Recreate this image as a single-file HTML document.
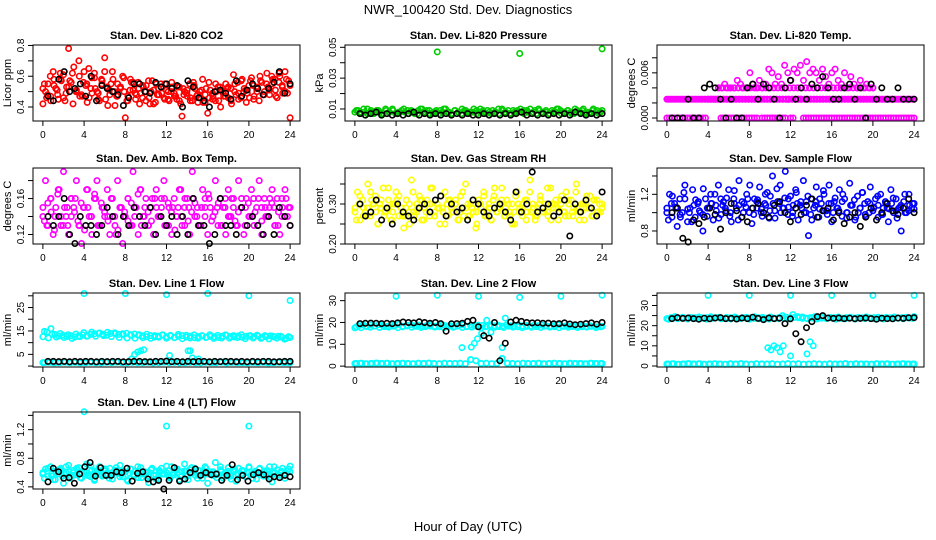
<!DOCTYPE html>
<html><head><meta charset="utf-8"><style>
html,body{margin:0;padding:0;background:#fff;}
svg{display:block;font-family:"Liberation Sans",Arial,sans-serif;}
</style></head><body>
<svg id="chart" width="936" height="540" viewBox="0 0 936 540" xmlns="http://www.w3.org/2000/svg">
<rect width="936" height="540" fill="#fff"/>
<text x="468" y="14" text-anchor="middle" font-size="13">NWR_100420  Std. Dev. Diagnostics</text>
<text x="468" y="531" text-anchor="middle" font-size="13">Hour of Day (UTC)</text>
<g id="plots"></g>
</svg>
<script>
// ---------- DATA ----------
const xTicks = [0,4,8,12,16,20,24];
const xTickLabels = ["0","4","8","12","16","20","24"];

const co2Red = [0.42,0.50,0.55,0.47,0.63,0.52,0.45,0.58,0.61,0.49,0.78,0.56,0.66,0.51,0.70,0.48,0.63,0.55,0.46,0.59,0.62,0.50,0.44,0.57,0.72,0.53,0.48,0.63,0.41,0.55,0.52,0.60,0.33,0.47,0.58,0.51,0.45,0.56,0.49,0.53,0.44,0.57,0.50,0.42,0.55,0.48,0.53,0.46,0.51,0.44,0.56,0.49,0.45,0.53,0.34,0.50,0.47,0.55,0.44,0.52,0.48,0.46,0.58,0.43,0.36,0.51,0.47,0.44,0.53,0.40,0.49,0.55,0.46,0.52,0.61,0.48,0.45,0.57,0.50,0.43,0.54,0.59,0.47,0.52,0.44,0.56,0.50,0.62,0.48,0.55,0.58,0.46,0.60,0.53,0.63,0.49,0.33];
const co2Red2 = [0.52,0.46,0.60,0.54,0.48,0.57,0.44,0.53,0.62,0.50,0.47,0.56,0.43,0.52,0.59,0.49,0.55,0.45,0.51,0.58,0.47,0.53,0.50,0.44,0.56,0.49,0.52,0.46,0.54,0.42,0.51,0.48,0.55,0.45,0.50,0.53,0.47,0.44,0.52,0.49,0.46,0.54,0.43,0.51,0.48,0.56,0.45,0.50,0.53,0.47,0.52,0.44,0.55,0.49,0.58,0.51,0.46,0.54,0.50,0.57,0.48,0.53,0.60,0.51,0.56,0.49,0.58,0.54];
const co2Red3 = [0.55,0.48,0.44,0.58,0.51,0.62,0.46,0.53,0.57,0.42,0.50,0.60,0.47,0.54,0.65,0.49,0.52,0.45,0.58,0.63,0.41,0.55,0.50,0.47,0.53,0.59,0.44,0.51,0.56,0.48,0.42,0.54,0.50,0.46,0.57,0.43,0.52,0.49,0.55,0.45,0.50,0.47,0.53,0.42,0.48,0.51,0.44,0.56,0.47,0.50,0.43,0.52,0.46,0.49,0.55,0.44,0.51,0.47,0.53,0.42,0.50,0.56,0.46,0.52,0.49,0.57,0.45,0.53,0.60,0.48,0.55,0.51,0.58,0.47,0.62,0.54,0.50,0.57];
const co2Black = [0.47,0.44,0.58,0.63,0.50,0.52,0.55,0.47,0.60,0.44,0.54,0.52,0.50,0.48,0.41,0.46,0.55,0.55,0.50,0.49,0.56,0.53,0.55,0.52,0.54,0.40,0.57,0.53,0.46,0.44,0.40,0.50,0.51,0.49,0.45,0.57,0.47,0.51,0.55,0.52,0.48,0.52,0.56,0.63,0.49,0.55];

const presGreen = [0.008,0.009,0.007,0.008,0.010,0.008,0.007,0.009,0.008,0.007,0.009,0.008,0.010,0.007,0.008,0.009,0.008,0.007,0.009,0.008,0.007,0.010,0.008,0.009,0.007,0.008,0.009,0.007,0.008,0.010,0.008,0.007,0.009,0.008,0.007,0.009,0.008,0.008,0.010,0.007,0.008,0.009,0.007,0.008,0.009,0.008,0.007,0.010,0.008,0.009,0.007,0.008,0.009,0.008,0.007,0.009,0.010,0.008,0.007,0.009,0.008,0.008,0.007,0.009,0.008,0.010,0.007,0.008,0.009,0.008,0.007,0.009,0.008,0.010,0.007,0.008,0.009,0.008,0.007,0.009];
const presGreen2 = [0.009,0.008,0.010,0.007,0.009,0.008,0.009,0.007,0.010,0.008,0.009,0.007,0.008,0.010,0.009,0.008,0.007,0.009,0.010,0.008,0.009,0.007,0.008,0.009,0.010,0.008,0.007,0.009,0.008,0.010,0.009,0.007,0.008,0.009,0.010,0.008,0.009,0.007,0.008,0.010,0.009,0.008,0.007,0.009,0.008,0.010,0.009,0.008,0.007,0.009,0.010,0.008,0.009,0.007,0.008,0.010,0.009,0.008,0.009,0.007,0.010,0.008,0.009,0.008,0.007,0.010,0.009,0.008];
const presOutHours = [8,16,24];
const presOutVals = [0.047,0.046,0.049];
const presBlack = [0.007,0.006,0.007,0.008,0.006,0.007,0.006,0.007,0.006,0.007,0.008,0.006,0.007,0.006,0.007,0.006,0.007,0.006,0.007,0.006,0.007,0.006,0.006,0.007,0.006,0.007,0.006,0.007,0.006,0.007,0.008,0.006,0.007,0.006,0.007,0.006,0.007,0.006,0.007,0.006,0.008,0.007,0.006,0.007,0.006,0.007];

const tempMagA = [0,0,0,0,0,0,0,0,0,0,0,0,0,0,0,0,0.0025,0.0025,0.0025,0.0025,0.0025,0,0,0,0,0,0,0,0,0,0,0,0,0,0,0,0.0025,0,0,0,0,0,0,0,0,0,0,0.0025,0,0,0.0025,0.0025,0.0025,0,0,0,0,0,0,0,0,0,0,0,0,0,0,0,0,0,0,0,0,0,0,0,0,0,0,0,0,0,0,0,0,0,0,0,0,0,0,0,0,0,0,0,0];
const tempMagB = [0.0025,0.0025,0.0025,0.0025,0.0025,0.0025,0.0025,0.0025,0.0025,0.0025,0.0025,0.0025,0.0025,0.0025,0.0025,0.0025,0.0025,0.0025,0.0025,0.0025,0.0025,0.0025,0.0025,0.0025,0.0025,0.0025,0.0025,0.0025,0.0025,0.0025,0.0025,0.0025,0.0025,0.0025,0.0025,0.0025,0.0025,0.0025,0.0025,0.0025,0.0025,0.0025,0.0025,0.0025,0.0025,0.0025,0.0025,0.0025,0.0025,0.0025,0.0025,0.0025,0.0025,0.0025,0.0025,0.0025,0.0025,0.0025,0.0025,0.0025,0.0025,0.0025,0.0025,0.0025,0.0025,0.0025,0.0025,0.0025,0.0025,0.0025,0.0025,0.0025,0.0025,0.0025,0.0025,0.0025,0.0025,0.0025,0.0025,0.0025];
const tempMagC = [0.004,0.004,0.0045,0.004,0.004,0.004,0.005,0.0045,0.004,0.004,0.006,0.0045,0.004,0.005,0.004,0.0045,0.0065,0.006,0.0045,0.0055,0.0045,0.007,0.006,0.005,0.0065,0.006,0.007,0.005,0.0075,0.006,0.0065,0.006,0.005,0.0065,0.0055,0.0045,0.006,0.0065,0.005,0.0045,0.006,0.004,0.0055,0.0045,0.004,0.005,0.004,0.0045,0.004,0.004];
const tempMagD = [0.004,0.004,0.004,0.004,0.004,0.004,0.004,0.004,0.004,0.004,0.004,0.004,0.004,0.004,0.004,0.004,0.004,0.004,0.004,0.004,0.004,0.004,0.004,0.004,0.004,0.004,0.004,0.004,0.004,0.004,0.004,0.004,0.004,0.004,0.004,0.004,0.004,0.004,0.004,0.004];
const tempBlack = [0,0,0,0.0025,0,0,0.004,0.0045,0.004,0.0025,0,0.0025,0,0,0.004,0.0045,0.0025,0.0045,0.004,0.0025,0,0.004,0.005,0.0025,0.004,0.0025,0.0045,0.004,0.0055,0.004,0.0025,0.0025,0.004,0.0045,0.0025,0.004,0,0.0045,0.0025,0.004,0.0025,0.0025,0.004,0.0025,0.0025,0.0025];

const ambMag = [0.14,0.18,0.13,0.16,0.12,0.15,0.17,0.13,0.19,0.14,0.12,0.16,0.15,0.18,0.13,0.11,0.15,0.17,0.14,0.12,0.16,0.18,0.13,0.15,0.14,0.17,0.12,0.16,0.13,0.18,0.15,0.11,0.14,0.16,0.13,0.19,0.15,0.12,0.17,0.14,0.16,0.13,0.15,0.12,0.17,0.14,0.16,0.18,0.13,0.15,0.12,0.16,0.14,0.17,0.13,0.15,0.16,0.12,0.19,0.14,0.15,0.13,0.17,0.16,0.12,0.15,0.14,0.18,0.13,0.16,0.15,0.12,0.17,0.14,0.16,0.13,0.18,0.15,0.12,0.16,0.14,0.17,0.13,0.15,0.18,0.12,0.16,0.14,0.15,0.17,0.13,0.16,0.12,0.15,0.17,0.14,0.13];
const ambMag2 = [0.15,0.13,0.16,0.14,0.17,0.13,0.15,0.14,0.16,0.13,0.15,0.17,0.14,0.16,0.13,0.15,0.14,0.16,0.12,0.15,0.14,0.16,0.13,0.15,0.17,0.14,0.13,0.16,0.15,0.14,0.16,0.13,0.15,0.14,0.17,0.13,0.15,0.16,0.14,0.13,0.15,0.16,0.14,0.15,0.13,0.16,0.14,0.15,0.13,0.16,0.15,0.14,0.16,0.13,0.15,0.14,0.16,0.15,0.13,0.14,0.16,0.15];
const ambMag3 = [0.135,0.155,0.145,0.125,0.165,0.14,0.15,0.13,0.16,0.145,0.135,0.155,0.125,0.15,0.14,0.165,0.13,0.155,0.145,0.135,0.16,0.14,0.125,0.15,0.145,0.135,0.155,0.14,0.165,0.13,0.15,0.145,0.135,0.16,0.14,0.15,0.13,0.155,0.145,0.125,0.15,0.14,0.16,0.135,0.145,0.155,0.13,0.15,0.14,0.165,0.135,0.145,0.155,0.13,0.15,0.14,0.16,0.135,0.145,0.15,0.13,0.155,0.14,0.145,0.16,0.135,0.15,0.14,0.155,0.13,0.145,0.16,0.14,0.15];
const ambBlack = [0.14,0.13,0.14,0.16,0.12,0.11,0.14,0.13,0.13,0.12,0.13,0.15,0.14,0.12,0.14,0.13,0.15,0.14,0.13,0.15,0.12,0.14,0.13,0.14,0.12,0.14,0.12,0.16,0.13,0.13,0.11,0.12,0.16,0.13,0.13,0.12,0.15,0.13,0.14,0.13,0.12,0.14,0.12,0.15,0.14,0.13];

const rhYel = [0.29,0.33,0.26,0.31,0.28,0.35,0.27,0.30,0.32,0.25,0.29,0.34,0.28,0.31,0.26,0.30,0.33,0.27,0.29,0.24,0.31,0.28,0.36,0.27,0.30,0.32,0.26,0.29,0.31,0.27,0.34,0.28,0.30,0.25,0.29,0.33,0.27,0.31,0.28,0.30,0.26,0.32,0.29,0.35,0.27,0.30,0.28,0.24,0.31,0.29,0.33,0.27,0.30,0.26,0.32,0.28,0.29,0.34,0.27,0.31,0.28,0.30,0.25,0.33,0.29,0.27,0.31,0.28,0.36,0.30,0.26,0.29,0.32,0.28,0.30,0.27,0.34,0.29,0.31,0.26,0.30,0.28,0.33,0.27,0.31,0.29,0.35,0.28,0.30,0.26,0.32,0.29,0.27,0.31,0.28,0.30,0.29];
const rhYel2 = [0.28,0.30,0.27,0.29,0.31,0.28,0.30,0.27,0.29,0.28,0.31,0.29,0.27,0.30,0.28,0.29,0.31,0.28,0.30,0.27,0.29,0.28,0.30,0.29,0.31,0.28,0.27,0.30,0.29,0.28,0.30,0.27,0.29,0.31,0.28,0.30,0.29,0.27,0.28,0.30,0.29,0.31,0.28,0.27,0.30,0.29,0.28,0.30,0.29,0.31,0.28,0.30,0.27,0.29,0.28,0.30,0.29,0.31,0.28,0.30];
const rhYel3 = [0.26,0.32,0.29,0.27,0.33,0.30,0.25,0.31,0.28,0.34,0.26,0.30,0.32,0.27,0.29,0.25,0.33,0.28,0.31,0.26,0.30,0.34,0.27,0.29,0.32,0.25,0.31,0.28,0.30,0.26,0.33,0.29,0.27,0.31,0.25,0.30,0.32,0.28,0.26,0.34,0.29,0.31,0.27,0.30,0.25,0.32,0.28,0.30,0.26,0.33,0.29,0.27,0.31,0.28,0.34,0.26,0.30,0.29,0.32,0.27,0.31,0.28,0.33,0.26,0.30,0.29,0.32,0.27,0.31,0.28];
const rhBlack = [0.30,0.27,0.28,0.31,0.26,0.29,0.25,0.30,0.28,0.27,0.26,0.29,0.30,0.28,0.31,0.32,0.27,0.30,0.28,0.29,0.26,0.31,0.30,0.28,0.27,0.29,0.30,0.28,0.26,0.33,0.28,0.30,0.38,0.28,0.29,0.30,0.27,0.28,0.31,0.22,0.30,0.28,0.31,0.29,0.27,0.33];

const flowBlue = [1.05,1.20,0.95,1.10,0.85,1.15,1.00,1.30,0.90,1.05,1.25,0.95,1.10,1.00,0.80,1.15,1.05,1.20,0.92,1.08,1.30,0.98,1.12,1.02,1.25,0.90,1.15,1.05,1.35,0.95,1.10,1.20,1.00,0.88,1.15,1.05,1.28,0.96,1.10,1.22,1.02,1.40,0.94,1.12,1.30,1.05,1.45,0.98,1.18,1.08,1.25,0.92,1.12,1.35,1.00,0.75,1.15,1.05,1.28,0.95,1.10,1.20,1.02,1.30,0.90,1.12,1.05,1.25,0.96,1.15,1.00,1.32,1.08,0.92,1.18,1.05,1.22,0.98,1.12,1.28,1.02,1.15,0.95,1.20,1.05,1.10,0.90,1.25,1.00,1.15,1.05,0.80,1.12,1.00,1.20,1.05,1.10];
const flowBlue2 = [1.00,1.10,1.05,0.95,1.15,1.00,1.08,1.12,0.98,1.05,1.10,1.02,1.15,1.05,0.96,1.10,1.08,1.00,1.15,1.05,1.12,1.00,1.08,1.18,1.02,1.10,1.05,1.15,1.00,1.10,1.05,1.12,0.98,1.08,1.15,1.02,1.10,1.00,1.05,1.12,1.00,1.08,0.95,1.05,1.10,1.00,1.05,1.08,0.98,1.05,1.10,1.02,1.06,1.00,1.08,1.04];
const flowBlue3 = [0.92,1.18,1.06,0.98,1.22,1.04,0.90,1.14,1.02,1.26,0.96,1.10,1.20,0.94,1.08,1.16,1.00,1.24,0.92,1.12,1.06,1.30,0.98,1.14,1.04,1.20,0.94,1.10,1.26,1.00,1.16,1.06,0.96,1.22,1.08,1.00,1.18,0.92,1.12,1.04,1.24,0.98,1.10,1.16,1.02,1.20,0.94,1.08,1.14,1.00,1.22,0.96,1.10,1.06,1.18,0.98,1.12,1.04,1.16,0.94,1.08,1.20,1.02,1.10];
const flowBlack = [1.00,1.05,0.72,0.68,0.92,0.88,0.95,1.05,0.98,0.82,1.00,1.10,1.02,0.95,0.90,1.05,1.10,1.00,0.95,1.08,1.12,1.00,0.90,1.05,0.98,1.08,1.15,0.95,1.02,1.05,0.92,1.00,0.88,0.95,1.00,0.85,0.95,1.05,0.92,1.00,1.10,1.02,0.98,1.05,1.15,1.00];

const l1CyanHigh = [12.5,14.5,16,13.5,12.8,13.2,12.6,13.0,12.4,12.9,13.3,12.7,13.5,13.8,14.0,13.6,13.2,13.9,14.2,13.5,13.8,14.0,13.4,13.7,13.1,12.9,12.6,13.0,12.4,12.8,13.2,12.5,12.9,12.2,12.7,13.0,12.4,12.8,12.1,12.6,12.9,12.3,12.7,12.5,12.2,12.8,13.1,12.6,12.4,12.9,12.3,12.7,13.0,12.5,12.8,12.2,12.6,12.9,12.4,12.7,12.3,11.8,12.2];
const l1CyanHigh2 = [14.8,12.0,13.6,12.4,13.9,12.2,13.4,11.8,13.7,12.6,14.3,12.9,14.5,12.7,14.1,13.0,14.4,12.6,13.8,12.2,13.5,12.0,13.2,11.9,13.4,12.1,13.6,11.8,13.0,12.3,13.4,11.9,13.1,12.1,13.5,11.7,13.2,12.0,13.3,11.9,13.0,12.2,13.4,11.8,13.1,12.0,13.3,11.9,13.0,12.2,13.4,11.7,12.9,12.0,13.2,11.8,13.0,11.6,12.8,11.9,12.7,11.5,12.6];
const l1CyanLow = [1.5,1.6,1.4,1.5,1.7,1.5,1.6,1.4,1.5,1.6,1.5,1.4,1.6,1.5,1.7,1.5,1.4,1.6,1.5,1.5,1.6,1.4,1.5,1.7,1.5,1.6,1.4,1.5,1.6,1.5,1.4,1.6,1.5,1.5,1.7,1.4,1.6,1.5,1.5,1.4,1.6,1.5,1.6,1.4,1.5,1.6,1.5,1.5];
const l1MidHours = [8.6,8.9,9.2,9.5,9.8,12.3,14.1,14.3,14.5,15.1];
const l1MidVals = [3,5,6,6.5,7,4.5,6.5,6.5,3.5,3];
const l1OutHours = [4,8,12,16,20,24];
const l1OutVals = [31,31,30.5,31,30,28];
const l1Black = [2,2,1.9,2,1.8,2,1.9,2,2,1.8,2,1.9,2,2,1.8,1.9,2,2,1.9,1.8,2,2,2.1,1.9,2,1.8,2,1.9,2,2,1.8,2,1.9,2,2,1.9,2,1.8,2,1.9,2,2,1.8,1.9,2,2];

const l2CyanHigh = [17.5,18.5,19,18.2,18.8,18.4,19,18.6,18.2,18.9,18.5,19.1,18.3,18.7,19,18.4,18.8,18.2,18.6,19,18.3,18.7,18.9,18.4,18.5,18.1,18.6,18.9,18.2,18.7,18.4,18.8,18.6,18.2,18.9,18.5,18.7,18.3,18.8,18.5,18.2,18.9,18.4,18.6,18.3,18.8,18.5,18.7,18.4,18.2,18.6,18.9,18.3,18.5,18.2,18.7,18.4,18.6,18.1,18.5,18.3,18.0,18.2];
const l2CyanHigh2 = [18.0,17.6,18.2,17.8,18.4,17.7,18.1,17.9,18.3,17.6,18.0,18.4,17.8,18.2,17.7,18.1,18.3,17.9,18.0,17.6,18.2,17.8,18.4,17.7,18.1,17.9,18.3,17.6,18.0,18.2,17.8,18.1,17.7,18.3,17.9,18.0,17.6,18.2,17.8,18.1,17.7,18.3,17.9,18.0,17.6,18.2,17.8,18.1,17.7,18.0,17.9,18.2,17.6,18.0];
const l2CyanLow = [1.2,1.3,1.1,1.2,1.4,1.2,1.3,1.1,1.2,1.3,1.2,1.1,1.3,1.2,1.4,1.2,1.1,1.3,1.2,1.2,1.3,1.1,3,2.5,1.2,1.3,1.1,1.2,3.5,1.3,1.2,1.1,1.3,1.2,1.2,1.3,1.1,1.2,1.3,1.2,1.1,1.3,1.2,1.2,1.1,1.3,1.2,1.2];
const l2MidHours = [10.4,11.3,11.6,11.9,12.3,12.8,13.2,14.3,14.6];
const l2MidVals = [8.5,8.7,10.5,12.5,15,21,15.5,8.5,22];
const l2OutHours = [4,8,12,16,20,24];
const l2OutVals = [32,32.5,32,31.5,32,32.5];
const l2Black = [19.5,19.6,19.7,19.6,19.5,19.6,19.5,19.8,20.2,20.0,19.8,20.3,20.0,19.6,20.0,19.5,16,19.4,19.5,19.6,20.5,21,18,14,12.8,20,2.5,10.5,20.2,21,20.5,20,19.8,19.9,19.6,19.7,19.4,19.5,19.8,19.3,19.0,19.2,19.5,19.8,19.2,20];

const l3CyanHigh = [23.5,24,24.5,23.8,24.2,23.6,24.1,23.9,24.3,23.7,24.0,24.4,23.8,24.2,23.5,24.1,23.9,24.3,23.6,24.0,24.2,23.8,24.4,23.9,24.1,23.7,24.3,23.6,24.0,25,24.2,23.8,24.1,23.9,24.3,23.7,24.0,24.4,23.8,24.2,23.6,24.1,23.9,24.3,23.7,24.0,24.2,23.8,24.1,23.9,24.3,23.6,24.0,24.2,23.8,24.1,23.9,24.3,23.7,24.0,24.2,23.8,24.5];
const l3CyanHigh2 = [23.2,23.8,23.4,24.0,23.3,23.7,23.5,23.9,23.2,23.6,24.0,23.4,23.8,23.3,23.7,23.5,23.9,23.2,23.6,23.4,23.8,23.3,23.7,23.5,23.9,23.4,25.5,24.5,23.6,23.4,23.8,23.3,23.7,23.5,23.9,23.2,23.6,23.4,23.8,23.3,23.7,23.5,23.9,23.4,23.6,23.3,23.8,23.5,23.7,23.4,23.9,23.6];
const l3CyanLow = [1,1.1,0.9,1,1.2,1,1.1,0.9,1,1.1,1,0.9,1.1,1,1.2,1,0.9,1.1,1,1,1.1,0.9,1,1.2,1,1.1,0.9,1,1.1,1,0.9,1.1,1,1,1.2,0.9,1.1,1,1,0.9,1.1,1,1.1,0.9,1,1.1,1,1];
const l3MidHours = [9.8,10.1,10.4,10.7,11.0,11.3,12.0,13.6,13.9,14.2];
const l3MidVals = [9,8,10,9,7,10,5,6,12,10];
const l3OutHours = [4,8,12,16,20,24];
const l3OutVals = [35,35,35,35,35,35];
const l3Black = [23.5,24,23.6,23.8,23.5,23.2,23.7,23.4,23.8,24,23.5,23.6,23.3,23.8,23.5,24.2,23.6,23.0,23.8,23.5,23.7,21,23.4,16,12,19,22,24.5,25,23.8,23.6,23.8,23.5,23.7,23.4,23.6,23.8,23.5,23.2,23.7,23.5,23.4,23.8,23.6,23.9,24];

const l4Cyan = [0.60,0.65,0.55,0.68,0.50,0.62,0.58,0.66,0.45,0.60,0.70,0.54,0.63,0.57,0.67,0.52,0.61,0.72,0.56,0.64,0.49,0.60,0.68,0.55,0.62,0.58,0.66,0.51,0.63,0.59,0.70,0.54,0.61,0.48,0.65,0.57,0.62,0.53,0.67,0.58,0.60,0.46,0.64,0.56,0.62,0.51,0.66,0.58,0.60,0.54,0.68,0.57,0.63,0.50,0.61,0.72,0.55,0.64,0.59,0.66,0.52,0.62,0.57,0.68,0.45,0.61,0.56,0.74,0.58,0.64,0.52,0.60,0.67,0.55,0.63,0.48,0.66,0.58,0.62,0.54,0.68,0.57,0.60,0.51,0.65,0.58,0.62,0.55,0.68,0.47,0.60,0.64,0.56,0.66,0.58,0.62,0.69];
const l4Cyan2 = [0.58,0.62,0.55,0.60,0.64,0.57,0.61,0.56,0.63,0.59,0.60,0.54,0.62,0.58,0.65,0.56,0.60,0.63,0.57,0.61,0.59,0.55,0.62,0.58,0.60,0.64,0.56,0.61,0.58,0.63,0.57,0.60,0.55,0.62,0.59,0.61,0.56,0.63,0.58,0.60,0.57,0.62,0.59,0.56,0.61,0.58,0.63,0.60,0.57,0.62,0.59,0.61,0.58,0.60,0.56,0.62,0.59,0.61];
const l4Cyan3 = [0.52,0.66,0.58,0.50,0.64,0.55,0.68,0.52,0.60,0.66,0.53,0.62,0.56,0.69,0.51,0.63,0.57,0.65,0.52,0.60,0.67,0.54,0.62,0.50,0.65,0.57,0.68,0.53,0.61,0.55,0.66,0.51,0.63,0.58,0.69,0.52,0.60,0.65,0.54,0.62,0.50,0.67,0.56,0.63,0.52,0.66,0.58,0.61,0.53,0.68,0.55,0.62,0.51,0.65,0.57,0.63,0.54,0.67,0.52,0.60,0.66,0.55,0.63,0.53,0.68,0.57,0.61,0.52,0.65];
const l4OutHours = [4,12,20];
const l4OutVals = [1.45,1.25,1.25];
const l4Black = [0.47,0.66,0.61,0.52,0.53,0.45,0.58,0.68,0.74,0.55,0.67,0.56,0.56,0.61,0.60,0.66,0.48,0.59,0.61,0.51,0.47,0.49,0.37,0.49,0.67,0.48,0.51,0.60,0.65,0.56,0.60,0.57,0.58,0.49,0.56,0.71,0.50,0.56,0.48,0.57,0.60,0.57,0.51,0.54,0.53,0.56,0.54];

// ---------- LAYOUT ----------
const RED="#ff0000", GRN="#00cd00", MAG="#ff00ff", YEL="#ffff00", BLU="#0000ff", CYN="#00ffff", BLK="#000000";
const rowTop=[45,168,293,412], rowBot=[121,244,367,489];
const colLeft=[33,345,657], boxW=267;
const xMin=-0.96, xMax=24.96;

const panels = [
 {name:"co2",title:"Stan. Dev. Li-820 CO2",ylab:"Licor ppm",r:0,c:0,ylim:[0.309,0.803],ticks:[0.4,0.5,0.6,0.7,0.8],labels:{"0.4":"0.4","0.6":"0.6","0.8":"0.8"},
  series:[[null,co2Red,RED],[null,co2Red2,RED],["o",co2Red3,RED],["b",co2Black,BLK]]},
 {name:"pressure",title:"Stan. Dev. Li-820 Pressure",ylab:"kPa",r:0,c:1,ylim:[0.0022,0.0515],ticks:[0.01,0.02,0.03,0.04,0.05],labels:{"0.01":"0.01","0.03":"0.03","0.05":"0.05"},
  series:[[null,presGreen,GRN],["o",presGreen2,GRN],[presOutHours,presOutVals,GRN],["b",presBlack,BLK]]},
 {name:"li820-temp",title:"Stan. Dev. Li-820 Temp.",ylab:"degrees C",r:0,c:2,ylim:[-0.0004,0.0097],ticks:[0,0.002,0.004,0.006,0.008],labels:{"0":"0.000","0.006":"0.006"},
  series:[[null,tempMagA,MAG],[null,tempMagB,MAG],["o",tempMagB,MAG],["m",tempMagC,MAG],["m",tempMagD,MAG],["b",tempBlack,BLK]]},
 {name:"amb-box-temp",title:"Stan. Dev. Amb. Box Temp.",ylab:"degrees C",r:1,c:0,ylim:[0.1094,0.194],ticks:[0.12,0.14,0.16,0.18],labels:{"0.12":"0.12","0.16":"0.16"},
  series:[[null,ambMag,MAG],[null,ambMag2,MAG],["o",ambMag3,MAG],["b",ambBlack,BLK]]},
 {name:"gas-stream-rh",title:"Stan. Dev. Gas Stream RH",ylab:"percent",r:1,c:1,ylim:[0.2,0.39],ticks:[0.2,0.25,0.3,0.35],labels:{"0.2":"0.20","0.3":"0.30"},
  series:[[null,rhYel,YEL],[null,rhYel2,YEL],["o",rhYel3,YEL],["b",rhBlack,BLK]]},
 {name:"sample-flow",title:"Stan. Dev. Sample Flow",ylab:"ml/min",r:1,c:2,ylim:[0.658,1.487],ticks:[0.8,1.0,1.2,1.4],labels:{"0.8":"0.8","1.2":"1.2"},
  series:[[null,flowBlue,BLU],[null,flowBlue2,BLU],["o",flowBlue3,BLU],["b",flowBlack,BLK]]},
 {name:"line1-flow",title:"Stan. Dev. Line 1 Flow",ylab:"ml/min",r:2,c:0,ylim:[-0.4,31.2],ticks:[0,5,10,15,20,25,30],labels:{"5":"5","15":"15","25":"25"},
  series:[[null,l1CyanHigh,CYN],["o",l1CyanHigh2,CYN],[null,l1CyanLow,CYN],["o",l1CyanLow,CYN],[l1MidHours,l1MidVals,CYN],[l1OutHours,l1OutVals,CYN],["b",l1Black,BLK]]},
 {name:"line2-flow",title:"Stan. Dev. Line 2 Flow",ylab:"ml/min",r:2,c:1,ylim:[-0.4,33.5],ticks:[0,10,20,30],labels:{"0":"0","10":"10","20":"20","30":"30"},
  series:[[null,l2CyanHigh,CYN],["o",l2CyanHigh2,CYN],[null,l2CyanLow,CYN],["o",l2CyanLow,CYN],[l2MidHours,l2MidVals,CYN],[l2OutHours,l2OutVals,CYN],["b",l2Black,BLK]]},
 {name:"line3-flow",title:"Stan. Dev. Line 3 Flow",ylab:"ml/min",r:2,c:2,ylim:[-0.5,36.2],ticks:[0,5,10,15,20,25,30,35],labels:{"0":"0","10":"10","20":"20","30":"30"},
  series:[[null,l3CyanHigh,CYN],["o",l3CyanHigh2,CYN],[null,l3CyanLow,CYN],["o",l3CyanLow,CYN],[l3MidHours,l3MidVals,CYN],[l3OutHours,l3OutVals,CYN],["b",l3Black,BLK]]},
 {name:"line4-flow",title:"Stan. Dev. Line 4 (LT) Flow",ylab:"ml/min",r:3,c:0,ylim:[0.37,1.447],ticks:[0.4,0.6,0.8,1.0,1.2,1.4],labels:{"0.4":"0.4","0.8":"0.8","1.2":"1.2"},
  series:[[null,l4Cyan,CYN],[null,l4Cyan2,CYN],["o",l4Cyan3,CYN],[l4OutHours,l4OutVals,CYN],["b",l4Black,BLK]]}
];

const NS="http://www.w3.org/2000/svg";
const root=document.getElementById("plots");
function mk(tag,attrs,parent){const e=document.createElementNS(NS,tag);for(const k in attrs)e.setAttribute(k,attrs[k]);parent.appendChild(e);return e;}

panels.forEach(p=>{
  const L=colLeft[p.c], T=rowTop[p.r], B=rowBot[p.r], R=L+boxW;
  const xS=h=>L+(h-xMin)/(xMax-xMin)*boxW;
  const yS=v=>B-(v-p.ylim[0])/(p.ylim[1]-p.ylim[0])*(B-T);
  const g=mk("g",{},root);
  
  
  const t=mk("text",{x:(L+R)/2,y:T-6,"text-anchor":"middle","font-size":"11","font-weight":"bold"},g);
  t.textContent=p.title;
  
  
  const yl=mk("text",{transform:`translate(${L-22},${(T+B)/2}) rotate(-90)`,"text-anchor":"middle","font-size":"11"},g);
  yl.textContent=p.ylab;
  
  
  p.series.forEach(s=>{
    const hrs=s[0], vals=s[1], col=s[2];
    vals.forEach((v,i)=>{
      let h;
      if(Array.isArray(hrs)) h=hrs[i];
      else if(hrs==="b") h=0.5+i*23.5/(vals.length-1);
      else if(hrs==="m") h=5+i*15/(vals.length-1);
      else if(hrs==="o") h=0.15+i*23.7/(vals.length-1);
      else h=i*24/(vals.length-1);
      const c=mk("circle",{cx:xS(h).toFixed(1),cy:yS(v).toFixed(1),r:"2.7",fill:"none",stroke:col,"stroke-width":"1.6"},g);
      
      
    });
  });
  const bx=mk("rect",{x:L,y:T,width:boxW,height:B-T,fill:"none",stroke:"#000","stroke-width":"1"},g);
  
  
  xTicks.forEach((h,i)=>{
    const x=xS(h);
    mk("line",{x1:x,y1:B,x2:x,y2:B+5,stroke:"#000"},g);
    const tl=mk("text",{x:x,y:B+17,"text-anchor":"middle","font-size":"10"},g);
    tl.textContent=xTickLabels[i];
    
    
  });
  p.ticks.forEach(v=>{
    const y=yS(v);
    mk("line",{x1:L-5,y1:y,x2:L,y2:y,stroke:"#000"},g);
    const lab=p.labels[String(v)];
    if(lab!==undefined){
      const tl=mk("text",{transform:`translate(${L-9},${y}) rotate(-90)`,"text-anchor":"middle","font-size":"10"},g);
      tl.textContent=lab;
      
      
    }
  });
});
</script>
</body></html>
